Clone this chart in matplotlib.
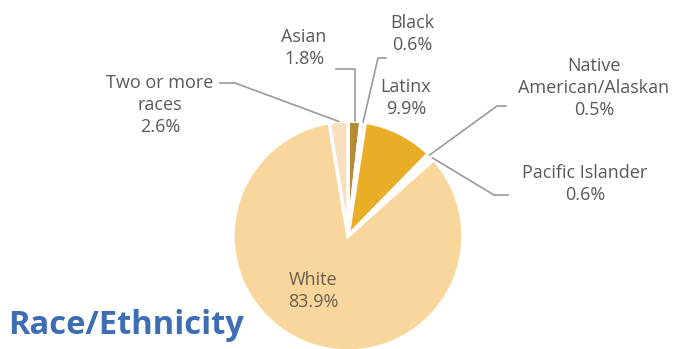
import numpy as np
import matplotlib
matplotlib.use("Agg")
from matplotlib import pyplot as plt

# data, clockwise from 12 o'clock
groups = ['Asian', 'Black', 'Latinx', 'Native\nAmerican/Alaskan', 'Pacific Islander', 'White', 'Two or more\nraces']
shares = [1.8, 0.6, 9.9, 0.5, 0.6, 83.9, 2.6]
colors = ['#B58A38', '#FBEEDB', '#E9AD28', '#FDF3E6', '#FDF3E6', '#F9D69C', '#FADFBE']
explode = [0, 0, 0.05, 0, 0, 0, 0]

W, H = 678, 349
cx, cy, R = 348, H - 236, 115

plt.rcParams['font.family'] = ['Open Sans', 'DejaVu Sans']

fig = plt.figure(figsize=(W / 100, H / 100), dpi=100)
ax = fig.add_axes([0, 0, 1, 1])

wedges, _ = ax.pie(shares, colors=colors, explode=explode, startangle=90, counterclock=False,
                   center=(cx, cy), radius=R, frame=True,
                   wedgeprops=dict(edgecolor='white', linewidth=2.5))
ax.set_xlim(0, W)
ax.set_ylim(0, H)
ax.set_aspect('equal')
ax.axis('off')


def rim(i, r=1.0):
    w = wedges[i]
    a = np.deg2rad((w.theta1 + w.theta2) / 2)
    return w.center[0] + r * R * np.cos(a), w.center[1] + r * R * np.sin(a)


txt = dict(fontsize=13, color='#595959', ha='center', va='center', linespacing=1.28)
line = dict(color='#9A9A9A', lw=1.2)


def label(i, x, y, **kw):
    ax.text(x, H - y, groups[i] + '\n' + f'{shares[i]}%', **{**txt, **kw})


# Asian
label(0, 304, 48)
px, py = rim(0)
ax.plot([336, px, px], [H - 69, H - 69, py], **line)

# Black
label(1, 412, 34)
px, py = rim(1)
ax.plot([386, 378, px], [H - 58, H - 58, py], **line)

# Latinx (inside, above slice)
label(2, 406, 98)

# Native American/Alaskan
label(3, 594, 88)
px, py = rim(3)
ax.plot([px, 497, 506], [py, H - 106, H - 106], **line)

# Pacific Islander
label(4, 585, 184)
px, py = rim(4)
ax.plot([px, 494, 508], [py, H - 195, H - 195], **line)

# White (inside)
label(5, 313, 291, color='#6A5E4C')

# Two or more races
label(6, 160, 105)
px, py = rim(6)
ax.plot([220, 235, px], [H - 83, H - 83, py], **line)

ax.text(8, H - 325, 'Race/Ethnicity', fontsize=23.5, fontweight='bold', color='#3D6DB5',
        ha='left', va='center')

fig.savefig('out.png', dpi=100)
